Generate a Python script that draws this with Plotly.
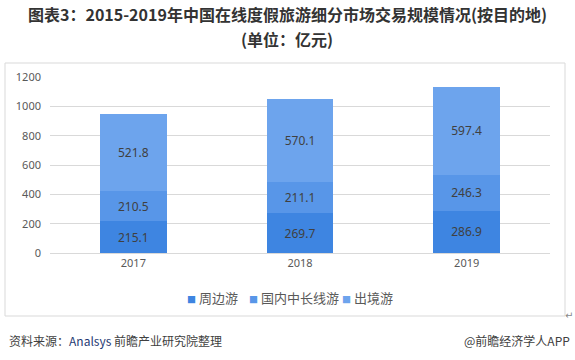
import plotly.graph_objects as go

years = ["2017", "2018", "2019"]
zhoubian = [215.1, 269.7, 286.9]
guonei = [210.5, 211.1, 246.3]
chujing = [521.8, 570.1, 597.4]
series_names = ["周边游", "国内中长线游", "出境游"]
colors = ["#3e85e1", "#5896e8", "#6da4ed"]
yticks = [0, 200, 400, 600, 800, 1000, 1200]

L, R, T, B = 50, 25, 77, 107
W, H = 575, 360
pw, ph = W - L - R, H - T - B

def px(x):
    return (x - L) / pw

def py(y):
    return (H - B - y) / ph

fig = go.Figure()
for name, vals, c in zip(series_names, [zhoubian, guonei, chujing], colors):
    fig.add_trace(go.Bar(
        x=years, y=vals, name=name, marker_color=c, marker_line_width=0,
        text=[f"{v:.1f}" for v in vals], textposition="inside",
        insidetextanchor="middle",
        textfont=dict(family="Noto Sans, Open Sans, sans-serif", size=12, color="#404040"),
        hoverinfo="skip"
    ))

fig.update_layout(
    barmode="stack", bargap=0.6,
    width=W, height=H,
    margin=dict(l=L, r=R, t=T, b=B),
    paper_bgcolor="white", plot_bgcolor="white",
    font=dict(family="Noto Sans, sans-serif", color="#595959"),
    xaxis=dict(showgrid=False, showline=True, linecolor="#d9d9d9", linewidth=1,
               ticks="", tickfont=dict(size=11, color="#595959")),
    yaxis=dict(range=[0, 1200], tickvals=yticks, showgrid=True, gridcolor="#d9d9d9",
               gridwidth=1, zeroline=False, ticks="", ticklabelstandoff=8,
               tickfont=dict(size=11, color="#595959")),
    showlegend=False,
)

# title
fig.add_annotation(xref="paper", yref="paper", x=px(287), y=py(14.5), xanchor="center", yanchor="middle",
                   showarrow=False,
                   text="<b>图表3：2015-2019年中国在线度假旅游细分市场交易规模情况(按目的地)</b>",
                   font=dict(family="Noto Sans CJK SC, sans-serif", size=16, color="#333333"))
fig.add_annotation(xref="paper", yref="paper", x=px(287), y=py(38.5), xanchor="center", yanchor="middle",
                   showarrow=False, text="<b>(单位：亿元)</b>",
                   font=dict(family="Noto Sans CJK SC, sans-serif", size=16, color="#333333"))

# legend built from series names and colours
legend_x = [185, 247, 340]
for name, c, lx in zip(series_names, colors, legend_x):
    fig.add_annotation(xref="paper", yref="paper", x=px(lx), y=py(297), xanchor="left", yanchor="middle",
                       showarrow=False,
                       text=f"<span style='color:{c};font-size:9px'>■</span> {name}",
                       font=dict(family="Noto Sans CJK SC, sans-serif", size=13, color="#595959"))

fig.add_shape(type="rect", xref="paper", yref="paper",
              x0=px(5), x1=px(565), y0=py(316), y1=py(63),
              line=dict(color="#d9d9d9", width=1), fillcolor="rgba(0,0,0,0)", layer="below")

fig.add_annotation(xref="paper", yref="paper", x=px(7), y=py(340), xanchor="left", yanchor="middle",
                   showarrow=False,
                   text="资料来源：<span style='color:#1f3a73'>Analsys</span> 前瞻产业研究院整理",
                   font=dict(family="Noto Sans CJK SC, sans-serif", size=12, color="#404040"))
fig.add_annotation(xref="paper", yref="paper", x=px(572), y=py(340), xanchor="right", yanchor="middle",
                   showarrow=False, text="@前瞻经济学人APP",
                   font=dict(family="Noto Sans CJK SC, sans-serif", size=12, color="#404040"))
fig.add_annotation(xref="paper", yref="paper", x=px(569), y=py(315), xanchor="center", yanchor="middle",
                   showarrow=False, text="↵",
                   font=dict(family="DejaVu Sans, sans-serif", size=10, color="#888888"))

fig.write_html("out.html", config={"displayModeBar": False},
               post_script="document.body.style.margin='0';")
